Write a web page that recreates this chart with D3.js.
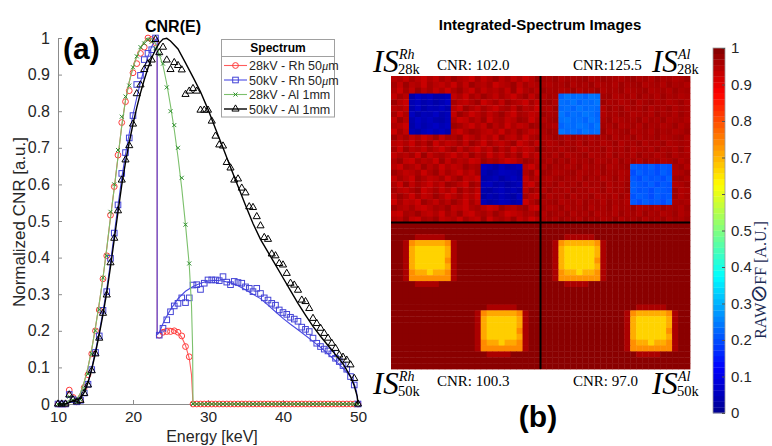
<!DOCTYPE html>
<html>
<head>
<meta charset="utf-8">
<script src="https://cdn.jsdelivr.net/npm/d3@7"></script>
<style>
  body { margin: 0; background: #fff; }
  svg { display: block; }
</style>
</head>
<body>
<svg id="chart" width="772" height="446"></svg>
<script>
// ---------- (a) CNR(E) data ----------
// energies of the measured points, keV
const energy = d3.range(10, 50.001, 0.5);

// measured points, one value per energy
const rh28Points = [0, 0, 0, 0.038, 0.018, 0.006, 0.012, 0.045, 0.08, 0.137,
    0.2, 0.257, 0.342, 0.405, 0.516, 0.594, 0.68, 0.769, 0.826, 0.856,
    0.905, 0.93, 0.958, 0.975, 1.0, 0.996, 0.987, 0.188, 0.196, 0.198,
    0.198, 0.2, 0.196, 0.186, 0.157, 0.129, 0, 0, 0, 0,
    0, 0, 0, 0, 0, 0, 0, 0, 0, 0,
    0, 0, 0, 0, 0, 0, 0, 0, 0, 0,
    0, 0, 0, 0, 0, 0, 0, 0, 0, 0,
    0, 0, 0, 0, 0, 0, 0, 0, 0, 0, 0];
const rh50Points = [0, 0, 0, 0.026, 0.012, 0.006, 0.01, 0.03, 0.054, 0.094,
    0.141, 0.186, 0.256, 0.307, 0.398, 0.467, 0.544, 0.63, 0.687, 0.727,
    0.788, 0.873, 0.898, 0.941, 0.958, 0.968, 1.0, 0.188, 0.207, 0.23,
    0.252, 0.268, 0.275, 0.29, 0.277, 0.29, 0.325, 0.326, 0.313, 0.33,
    0.339, 0.339, 0.339, 0.337, 0.348, 0.333, 0.326, 0.335, 0.332, 0.33,
    0.32, 0.316, 0.307, 0.316, 0.302, 0.29, 0.284, 0.275, 0.27, 0.257,
    0.25, 0.245, 0.237, 0.232, 0.226, 0.21, 0.204, 0.198, 0.18, 0.166,
    0.157, 0.15, 0.145, 0.137, 0.125, 0.116, 0.105, 0.095, 0.075, 0.052, 0];
const al28Points = [0, 0, 0, 0.02, 0.01, 0.005, 0.012, 0.042, 0.082, 0.137,
    0.2, 0.258, 0.345, 0.405, 0.525, 0.6, 0.694, 0.785, 0.84, 0.87,
    0.92, 0.95, 0.975, 0.985, 0.995, 0.99, 0.972, 0.955, 0.93, 0.865,
    0.8, 0.762, 0.7, 0.618, 0.49, 0.384, 0, 0, 0, 0,
    0, 0, 0, 0, 0, 0, 0, 0, 0, 0,
    0, 0, 0, 0, 0, 0, 0, 0, 0, 0,
    0, 0, 0, 0, 0, 0, 0, 0, 0, 0,
    0, 0, 0, 0, 0, 0, 0, 0, 0, 0, 0];
const al50Points = [0, 0, 0, 0.025, 0.012, 0.006, 0.01, 0.029, 0.052, 0.091,
    0.137, 0.18, 0.248, 0.298, 0.386, 0.453, 0.528, 0.612, 0.667, 0.706,
    0.765, 0.848, 0.872, 0.914, 0.93, 0.94, 0.996, 0.96, 0.975, 0.94,
    0.914, 0.933, 0.925, 0.913, 0.846, 0.855, 0.862, 0.855, 0.803, 0.803,
    0.803, 0.773, 0.732, 0.708, 0.705, 0.66, 0.645, 0.612, 0.615, 0.59,
    0.577, 0.539, 0.537, 0.512, 0.487, 0.455, 0.45, 0.41, 0.405, 0.384,
    0.38, 0.357, 0.33, 0.325, 0.311, 0.284, 0.28, 0.261, 0.234, 0.22,
    0.207, 0.193, 0.18, 0.166, 0.152, 0.134, 0.128, 0.12, 0.107, 0.07, 0];

// simulated curves, [energy, value]
const rh28Curve = [[10, 0], [11, 0], [11.5, 0.01], [12, 0.012], [12.5, 0.012], [13, 0.03],
    [13.5, 0.06], [14, 0.1], [14.5, 0.15], [15, 0.21], [15.5, 0.275], [16, 0.345],
    [16.5, 0.425], [17, 0.51], [17.5, 0.59], [18, 0.675], [18.5, 0.76], [19, 0.83],
    [19.5, 0.88], [20, 0.92], [20.5, 0.95], [21, 0.972], [21.5, 0.99], [22, 1.0],
    [22.5, 0.998], [23, 0.985], [23.22, 0.975], [23.22, 0.19], [23.5, 0.195], [24, 0.203],
    [24.5, 0.207], [25, 0.207], [25.5, 0.203], [26, 0.195], [26.5, 0.182], [27, 0.16],
    [27.5, 0.125], [27.8, 0.08], [28, 0], [50, 0]];
const rh50Curve = [[10, 0], [11, 0], [11.5, 0.005], [12, 0.01], [12.5, 0.012], [13, 0.016],
    [13.5, 0.033], [14, 0.06], [14.5, 0.098], [15, 0.145], [15.5, 0.196], [16, 0.253],
    [16.5, 0.315], [17, 0.387], [17.5, 0.465], [18, 0.542], [18.5, 0.617], [19, 0.682],
    [19.5, 0.739], [20, 0.791], [20.5, 0.837], [21, 0.879], [21.5, 0.916], [22, 0.949],
    [22.5, 0.977], [23, 0.995], [23.22, 1.0], [23.22, 0.19], [23.5, 0.195], [24, 0.22],
    [24.5, 0.24], [25, 0.258], [26, 0.288], [27, 0.308], [28, 0.321], [29, 0.33],
    [30, 0.336], [31, 0.338], [32, 0.336], [33, 0.331], [34, 0.323], [35, 0.312],
    [36, 0.3], [37, 0.288], [38, 0.27], [39, 0.252], [40, 0.234], [41, 0.218],
    [42, 0.203], [43, 0.187], [44, 0.171], [45, 0.155], [46, 0.137], [47, 0.118],
    [48, 0.098], [49, 0.075], [49.5, 0.055], [49.8, 0.035], [50, 0]];
const al28Curve = [[10, 0], [11, 0], [11.5, 0.01], [12, 0.012], [12.5, 0.012], [13, 0.03],
    [13.5, 0.06], [14, 0.1], [14.5, 0.15], [15, 0.21], [15.5, 0.275], [16, 0.345],
    [16.5, 0.425], [17, 0.51], [17.5, 0.59], [18, 0.675], [18.5, 0.76], [19, 0.83],
    [19.5, 0.88], [20, 0.92], [20.5, 0.95], [21, 0.972], [21.5, 0.99], [22, 1.0],
    [22.5, 0.998], [23, 0.985], [23.5, 0.955], [24, 0.925], [24.5, 0.875], [25, 0.815],
    [25.5, 0.75], [26, 0.675], [26.5, 0.59], [27, 0.49], [27.5, 0.38], [27.8, 0.27],
    [27.95, 0.15], [28, 0], [50, 0]];
const al50Curve = [[10, 0], [11, 0], [11.5, 0.004], [12, 0.009], [12.5, 0.012], [13, 0.015],
    [13.5, 0.032], [14, 0.058], [14.5, 0.095], [15, 0.14], [15.5, 0.19], [16, 0.245],
    [16.5, 0.305], [17, 0.375], [17.5, 0.45], [18, 0.525], [18.5, 0.598], [19, 0.66],
    [19.5, 0.715], [20, 0.765], [20.5, 0.81], [21, 0.85], [21.5, 0.886], [22, 0.918],
    [22.5, 0.946], [23, 0.968], [23.5, 0.986], [24, 0.997], [24.5, 0.999], [25, 0.992],
    [26, 0.97], [27, 0.932], [28, 0.893], [29, 0.853], [30, 0.805], [31, 0.752],
    [32, 0.7], [33, 0.647], [34, 0.595], [35, 0.543], [36, 0.493], [37, 0.45],
    [38, 0.415], [39, 0.38], [40, 0.345], [41, 0.31], [42, 0.275], [43, 0.243],
    [44, 0.212], [45, 0.185], [46, 0.16], [47, 0.135], [48, 0.11], [49, 0.075],
    [49.5, 0.05], [49.9, 0.02], [50, 0]];

const seriesNames = ["28kV - Rh 50", "50kV - Rh 50", "28kV - Al 1mm", "50kV - Al 1mm"];
const xTicks = [10, 20, 30, 40, 50];
const yTicks = [0, 0.1, 0.2, 0.3, 0.4, 0.5, 0.6, 0.7, 0.8, 0.9, 1];

// ---------- (b) integrated-spectrum images ----------
const quadLabels = [
    { sup: "Rh", sub: "28k", cnr: "CNR: 102.0" },
    { sup: "Al", sub: "28k", cnr: "CNR:125.5" },
    { sup: "Rh", sub: "50k", cnr: "CNR: 100.3" },
    { sup: "Al", sub: "50k", cnr: "CNR: 97.0" }
];
const quadBackground = [0.972, 0.97, 0.99, 0.99];
const quadTextureStep = [0.009, 0.006, 0, 0];
const squareLevels = [[0.04, 0.035], [0.235, 0.212], [0.67, 0.675], [0.665, 0.67]];
const squareCells = [[3, 3], [15, 15]];   // top-left cell (col,row) of each insert
const squareSize = 7;
const cellsPerQuad = 25;

// pixel noise in the two 28k images (0 = darkest red)
const textureTL = [
    "3241352413023514203142530", "1403251342514023153204132", "2514031425203514231405213",
    "4130524013425130241352041", "0352413025134205314023514", "3241503241350241352140325",
    "1524032513402531420351243", "4031524103254130521430152", "2350413524013524031524301",
    "5142035241352013425130243", "0314253041205314250341521", "3425130524314025134205314",
    "1503241352041352403152430", "4231504213524031524130524", "2045132504132540213542013",
    "3512403152430215304124352", "0243152041352413025431205", "4135024315204351240352413",
    "2504135240135024513024351", "1342053142503142035241302", "3025143025314250314205134",
    "5143502413025143025413520", "0231453120435213540231045", "4512034251304521302543120",
    "2304512043251340521304253"];
const textureTR = [
    "1203121032012310213021320", "2312031203213021032130213", "0213203120312032103213021",
    "3120312032103213021302132", "1032130213021320310213203", "2301203121302031203120312",
    "0213021320312013213021302", "3102312031203212031203213", "1230213203120321302132031",
    "2013120312032103213021320", "3201302131203120312032103", "1320213021320312031203212",
    "0213102312031203213021303", "2130321032130213021320312", "1302031203213021302132031",
    "3021320312032103213021203", "0132103213021320312031320", "2310213021320312031203102",
    "1203120312031203213021320", "3021302132031203120321032", "0312031203213021320312031",
    "2103213021302132031203212", "1320312031203120321302130", "3012031203213021302132031",
    "2130213021320312031203120"];
// blurred rim around the yellow inserts of the 50k images
const glowPatch = [
    "..hhhhh..",
    "hoaaaaaoh",
    "hayyyyyah",
    "hayyyyyah",
    "hayyyyyoh",
    "hayyyyyah",
    "hoaayaaoh",
    "hoooooooh",
    "..hhhh..."];
const glowLevels = { h: 0.958, o: 0.735, a: 0.705, y: 0.668 };
const colorbarTicks = [0, 0.1, 0.2, 0.3, 0.4, 0.5, 0.6, 0.7, 0.8, 0.9, 1];

const sans = "'Liberation Sans', Arial, sans-serif";
const serif = "'Liberation Serif', 'Times New Roman', serif";
const svg = d3.select("#chart");

svg.append("rect").attr("width", 772).attr("height", 446).attr("fill", "#fff");

// MATLAB jet colormap
const jet = d3.scaleLinear()
    .domain([0, 0.125, 0.375, 0.625, 0.875, 1])
    .range(["#00008f", "#0000ff", "#00ffff", "#ffff00", "#ff0000", "#800000"])
    .clamp(true);

drawCnrPlot();
drawImages();
drawColorbar();

function drawCnrPlot() {
    let x = d3.scaleLinear().domain([10, 50]).range([58, 358]);
    let y = d3.scaleLinear().domain([0, 1]).range([404, 38]);
    let g = svg.append("g");

    // axes (ticks inside, no box)
    let xAxis = g.append("g")
        .attr("transform", "translate(0,404)")
        .call(d3.axisBottom(x).tickValues(xTicks).tickSize(-4).tickPadding(7));
    let yAxis = g.append("g")
        .attr("transform", "translate(58,0)")
        .call(d3.axisLeft(y).tickValues(yTicks).tickSize(-4).tickPadding(8)
            .tickFormat(d => d3.format("~g")(d)));
    [xAxis, yAxis].forEach(a => {
        a.select(".domain").attr("stroke", "#8c8c8c");
        a.selectAll(".tick line").attr("stroke", "#8c8c8c");
        a.selectAll("text").attr("fill", "#262626")
            .style("font-family", sans).style("font-size", "16px");
    });
    xAxis.selectAll("text").style("font-size", "15.5px");

    let series = [
        { curve: rh28Curve, points: rh28Points, line: "#ff5c5c", mark: "#ff3b3b", shape: "circle" },
        { curve: rh50Curve, points: rh50Points, line: "#4b4be3", mark: "#4444d6", shape: "square" },
        { curve: al28Curve, points: al28Points, line: "#7cc06c", mark: "#2f8f2f", shape: "cross" },
        { curve: al50Curve, points: al50Points, line: "#000000", mark: "#000000", shape: "triangle" }
    ];

    let line = d3.line().x(d => x(d[0])).y(d => y(d[1]));

    series.forEach(s => {
        g.append("path")
            .datum(s.curve)
            .attr("fill", "none")
            .attr("stroke", s.line)
            .attr("stroke-width", s.shape == "triangle" ? 1.4 : 1.1)
            .attr("d", line);
        let pts = s.points.map((v, i) => [energy[i], v]);
        pts.forEach(p => drawMarker(g, s.shape, x(p[0]), y(p[1]), s.mark));
    });

    // titles and labels
    svg.append("text").attr("x", 173).attr("y", 32).attr("text-anchor", "middle")
        .style("font-family", sans).style("font-size", "16px").style("font-weight", "bold")
        .text("CNR(E)");
    svg.append("text").attr("x", 63).attr("y", 59)
        .style("font-family", sans).style("font-size", "30px").style("font-weight", "bold")
        .text("(a)");
    svg.append("text").attr("x", 212).attr("y", 442).attr("text-anchor", "middle")
        .attr("fill", "#262626")
        .style("font-family", sans).style("font-size", "16px")
        .text("Energy [keV]");
    svg.append("text").attr("transform", "translate(25,222) rotate(-90)")
        .attr("text-anchor", "middle").attr("fill", "#262626")
        .style("font-family", sans).style("font-size", "17px")
        .text("Normalized CNR [a.u.]");

    // legend
    let lg = svg.append("g");
    lg.append("rect").attr("x", 221.5).attr("y", 39.5).attr("width", 113).attr("height", 77.5)
        .attr("fill", "#fff").attr("stroke", "#a0a0a0");
    lg.append("line").attr("x1", 221.5).attr("x2", 334.5).attr("y1", 56.5).attr("y2", 56.5)
        .attr("stroke", "#a0a0a0");
    lg.append("text").attr("x", 278).attr("y", 52).attr("text-anchor", "middle")
        .style("font-family", sans).style("font-size", "12px").style("font-weight", "bold")
        .text("Spectrum");
    let rowY = [65.5, 80, 94.5, 109];
    series.forEach((s, i) => {
        lg.append("line").attr("x1", 224).attr("x2", 247).attr("y1", rowY[i]).attr("y2", rowY[i])
            .attr("stroke", s.line).attr("stroke-width", s.shape == "triangle" ? 1.4 : 1.1);
        drawMarker(lg, s.shape, 235.5, rowY[i], s.mark);
        let t = lg.append("text").attr("x", 249).attr("y", rowY[i]).attr("dy", "0.36em")
            .attr("fill", "#262626")
            .style("font-family", sans).style("font-size", "12.5px")
            .text(seriesNames[i]);
        if (i < 2) {
            t.append("tspan").style("font-style", "italic").style("font-family", serif).text("\u03bc");
            t.append("tspan").text("m");
        }
    });
}

function drawMarker(g, shape, cx, cy, color) {
    if (shape == "circle") {
        g.append("circle").attr("cx", cx).attr("cy", cy).attr("r", 2.9)
            .attr("fill", "none").attr("stroke", color).attr("stroke-width", 1);
    } else if (shape == "square") {
        g.append("rect").attr("x", cx - 2.8).attr("y", cy - 2.8).attr("width", 5.6).attr("height", 5.6)
            .attr("fill", "none").attr("stroke", color).attr("stroke-width", 1);
    } else if (shape == "cross") {
        g.append("path")
            .attr("d", "M" + (cx - 2) + "," + (cy - 2) + "L" + (cx + 2) + "," + (cy + 2) +
                "M" + (cx - 2) + "," + (cy + 2) + "L" + (cx + 2) + "," + (cy - 2))
            .attr("stroke", color).attr("stroke-width", 1);
    } else {
        g.append("path")
            .attr("d", d3.symbol(d3.symbolTriangle, 22)())
            .attr("transform", "translate(" + cx + "," + cy + ")")
            .attr("fill", "none").attr("stroke", color).attr("stroke-width", 1);
    }
}

function drawImages() {
    let n = cellsPerQuad * 2;
    let gx = d3.scaleBand().domain(d3.range(n)).range([391, 690]);
    let gy = d3.scaleBand().domain(d3.range(n)).range([76, 369]);

    // build value of every pixel
    let cells = [];
    for (let q = 0; q < 4; q++) {
        let qc = q % 2, qr = Math.floor(q / 2);
        let grid = [];
        for (let r = 0; r < cellsPerQuad; r++) {
            grid.push([]);
            for (let c = 0; c < cellsPerQuad; c++) {
                let tex = q == 0 ? +textureTL[r][c] : q == 1 ? +textureTR[r][c] : 2;
                let v = quadBackground[q] - tex * quadTextureStep[q];
                squareCells.forEach((sq, k) => {
                    if (c >= sq[0] && c < sq[0] + squareSize && r >= sq[1] && r < sq[1] + squareSize) {
                        v = squareLevels[q][k] + (tex - 2) * (qr == 0 ? 0.006 : 0);
                    }
                });
                grid[r].push(v);
            }
        }
        // the 50k images have a smeared rim around their inserts
        if (qr == 1) {
            squareCells.forEach((sq, k) => {
                glowPatch.forEach((row, pr) => {
                    for (let pc = 0; pc < row.length; pc++) {
                        let ch = row[pc];
                        if (ch == ".") continue;
                        let r = sq[1] - 1 + pr, c = sq[0] - 1 + pc;
                        let v = glowLevels[ch];
                        if (ch != "h") v += squareLevels[q][k] - 0.67;
                        grid[r][c] = v;
                    }
                });
            });
        }
        for (let r = 0; r < cellsPerQuad; r++) {
            for (let c = 0; c < cellsPerQuad; c++) {
                cells.push({ col: qc * cellsPerQuad + c, row: qr * cellsPerQuad + r, v: grid[r][c] });
            }
        }
    }

    svg.append("g").selectAll("rect")
        .data(cells)
        .join("rect")
        .attr("x", d => gx(d.col))
        .attr("y", d => gy(d.row))
        .attr("width", gx.bandwidth() + 0.4)
        .attr("height", gy.bandwidth() + 0.4)
        .attr("fill", d => jet(d.v));

    // separators between the four images
    svg.append("line").attr("x1", gx(cellsPerQuad)).attr("x2", gx(cellsPerQuad))
        .attr("y1", 76).attr("y2", 369).attr("stroke", "#000").attr("stroke-width", 2);
    svg.append("line").attr("x1", 391).attr("x2", 690)
        .attr("y1", gy(cellsPerQuad)).attr("y2", gy(cellsPerQuad))
        .attr("stroke", "#000").attr("stroke-width", 2);

    svg.append("text").attr("x", 540).attr("y", 30).attr("text-anchor", "middle")
        .style("font-family", sans).style("font-size", "15px").style("font-weight", "bold")
        .text("Integrated-Spectrum Images");
    svg.append("text").attr("x", 538).attr("y", 427).attr("text-anchor", "middle")
        .style("font-family", sans).style("font-size", "30px").style("font-weight", "bold")
        .text("(b)");

    // IS labels and CNR values
    let labelX = [373, 652, 373, 652];
    let labelY = [72, 72, 394, 394];
    let cnrX = [437, 573, 437, 573];
    let cnrY = [70, 70, 386, 386];
    quadLabels.forEach((lab, i) => {
        svg.append("text").attr("x", labelX[i]).attr("y", labelY[i])
            .style("font-family", serif).style("font-size", "31px").style("font-style", "italic")
            .text("IS");
        svg.append("text").attr("x", labelX[i] + 26).attr("y", labelY[i] - 13)
            .style("font-family", serif).style("font-size", "14px").style("font-style", "italic")
            .text(lab.sup);
        svg.append("text").attr("x", labelX[i] + 25).attr("y", labelY[i] + 2)
            .style("font-family", serif).style("font-size", "14.5px")
            .text(lab.sub);
        svg.append("text").attr("x", cnrX[i]).attr("y", cnrY[i])
            .style("font-family", serif).style("font-size", "15px")
            .text(lab.cnr);
    });
}

function drawColorbar() {
    let cy = d3.scaleLinear().domain([0, 1]).range([413, 48]);
    let steps = d3.range(64);
    svg.append("g").selectAll("rect")
        .data(steps)
        .join("rect")
        .attr("x", 713)
        .attr("y", d => cy((d + 1) / 64))
        .attr("width", 12)
        .attr("height", cy(0) - cy(1 / 64) + 0.3)
        .attr("fill", d => jet((d + 0.5) / 64));
    svg.append("rect").attr("x", 713).attr("y", 48).attr("width", 12).attr("height", 365)
        .attr("fill", "none").attr("stroke", "#9a9a9a").attr("stroke-width", 0.8);

    let ax = svg.append("g")
        .attr("transform", "translate(725,0)")
        .call(d3.axisRight(cy).tickValues(colorbarTicks).tickSize(-3).tickPadding(6)
            .tickFormat(d => d3.format("~g")(d)));
    ax.select(".domain").remove();
    ax.selectAll(".tick line").attr("stroke", "#555");
    ax.selectAll("text").attr("fill", "#262626")
        .style("font-family", sans).style("font-size", "15px");

    let t = svg.append("text").attr("transform", "translate(766,280) rotate(-90)")
        .attr("text-anchor", "middle").attr("fill", "#1c2b55")
        .style("font-family", serif).style("font-size", "16px");
    t.append("tspan").text("RAW");
    t.append("tspan").style("font-size", "22px").style("font-family", "'DejaVu Sans', sans-serif")
        .style("font-weight", "200").text("\u2298");
    t.append("tspan").text("FF [A.U.]");
}
</script>
</body>
</html>
